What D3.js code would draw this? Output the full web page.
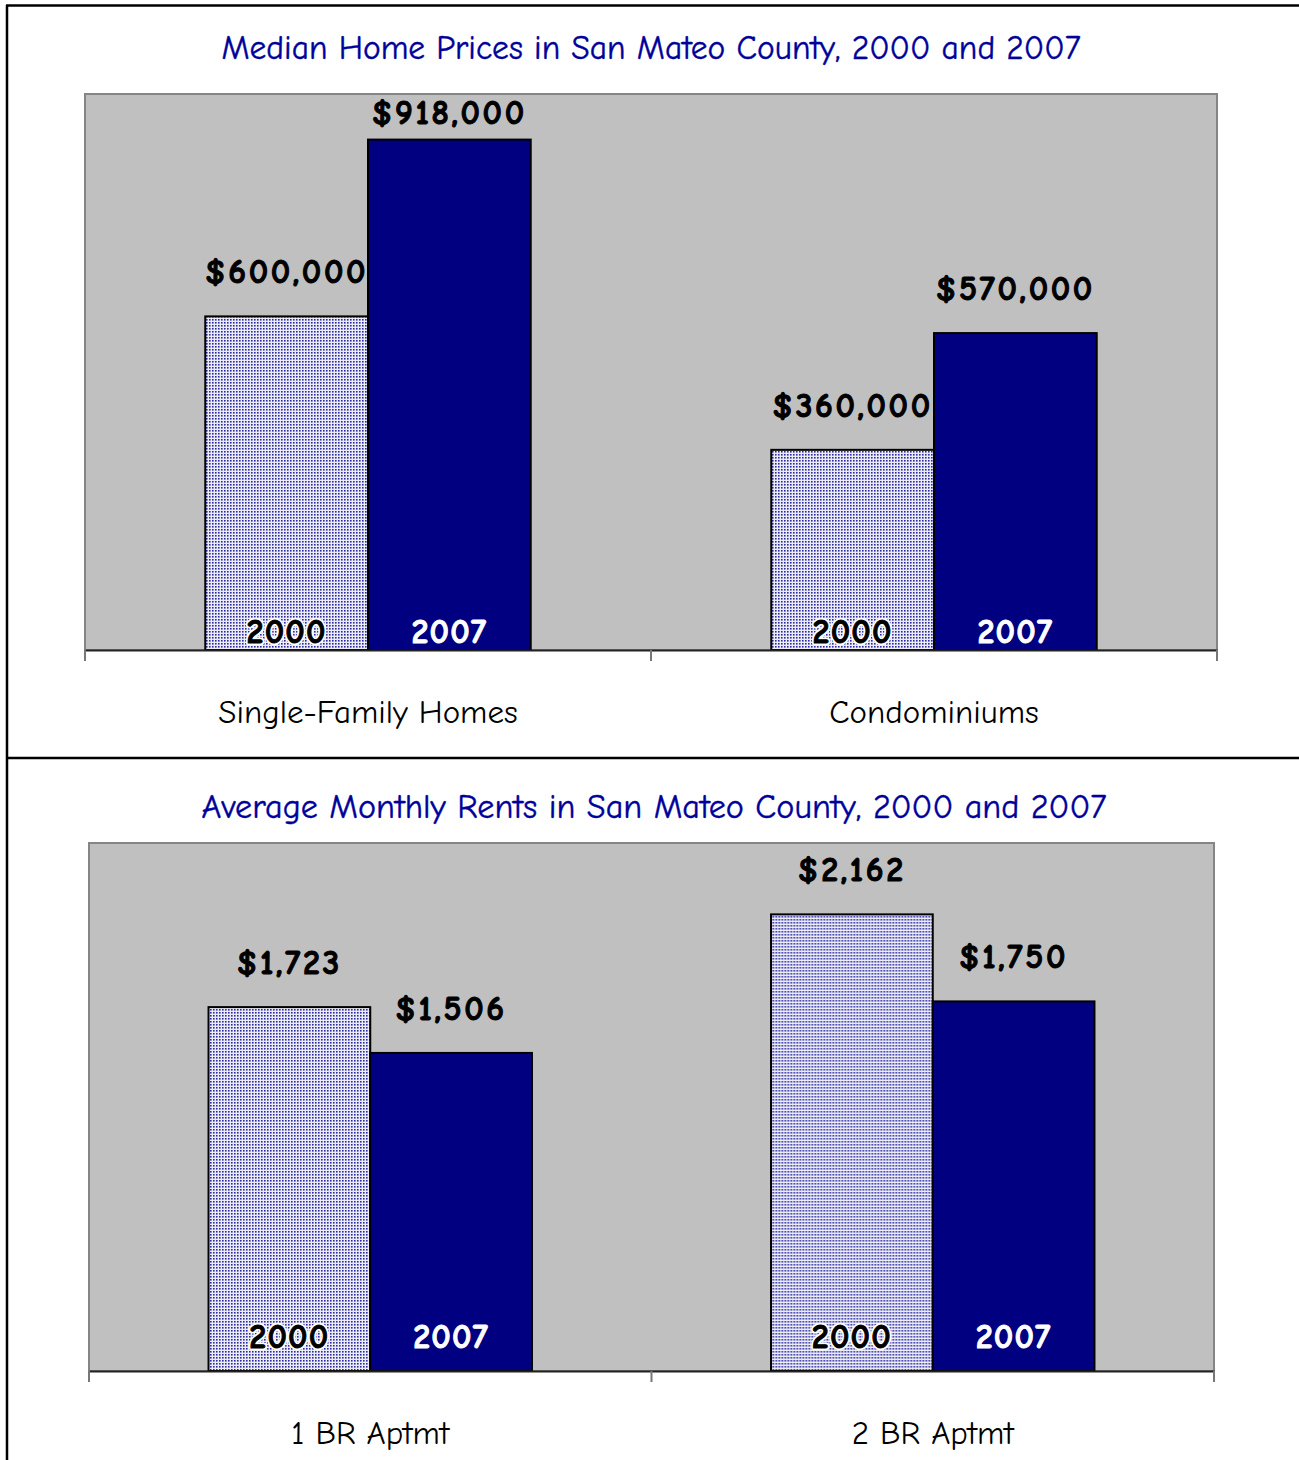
<!DOCTYPE html>
<html>
<head>
<meta charset="utf-8">
<script src="https://cdn.jsdelivr.net/npm/d3@7"></script>
<style>
  html, body { margin: 0; padding: 0; background: #fff; }
  svg { display: block; }
  text { font-family: "Comic Sans MS", "Comic Neue", "DejaVu Sans", sans-serif; }
</style>
</head>
<body>
<svg id="chart" width="1299" height="1460"></svg>
<script>
// データ
var years = ["2000", "2007"];

var priceTitle = "Median Home Prices in San Mateo County, 2000 and 2007";
var priceCategories = ["Single-Family Homes", "Condominiums"];
var prices2000 = [600000, 360000];
var prices2007 = [918000, 570000];
var priceMax = 1000000;

var rentTitle = "Average Monthly Rents in San Mateo County, 2000 and 2007";
var rentCategories = ["1 BR Aptmt", "2 BR Aptmt"];
var rents2000 = [1723, 2162];
var rents2007 = [1506, 1750];
var rentMax = 2500;

var svg = d3.select("#chart");

// 2000年のドット模様
var defs = svg.append("defs");
var pat = defs.append("pattern")
  .attr("id", "dots")
  .attr("patternUnits", "userSpaceOnUse")
  .attr("width", 3).attr("height", 3);
pat.append("rect").attr("width", 3).attr("height", 3).attr("fill", "#ececf9");
pat.append("rect").attr("x", 1).attr("y", 1).attr("width", 1.6).attr("height", 1.6).attr("fill", "#2a2aa2");

// 外枠
svg.append("line").attr("x1", 7).attr("y1", 5).attr("x2", 7).attr("y2", 1460)
  .attr("stroke", "#000").attr("stroke-width", 2.5);
svg.append("line").attr("x1", 6).attr("y1", 5.5).attr("x2", 1299).attr("y2", 5.5)
  .attr("stroke", "#000").attr("stroke-width", 2.5);
svg.append("line").attr("x1", 6).attr("y1", 758).attr("x2", 1299).attr("y2", 758)
  .attr("stroke", "#000").attr("stroke-width", 2.5);

function drawChart(opt){
  var rows = opt.categories.map(function(c, i){
    return { category: c, values: [
      { year: years[0], value: opt.v2000[i] },
      { year: years[1], value: opt.v2007[i] }
    ]};
  });

  var left = opt.left, right = opt.right, top = opt.top, bottom = opt.bottom;

  var x0 = d3.scaleBand().domain(opt.categories).range([left, right]).padding(0);
  var bw = x0.bandwidth();
  var x1 = d3.scaleBand().domain(years).range([bw * 0.2125, bw * 0.7875]).padding(0);
  var y = d3.scaleLinear().domain([0, opt.max]).range([bottom, top]);

  // タイトル
  svg.append("text")
    .attr("x", opt.titleX).attr("y", opt.titleY)
    .attr("text-anchor", "middle")
    .attr("fill", "#00009a")
    .attr("stroke", "#00009a").attr("stroke-width", 0.4)
    .style("font-size", opt.titleSize + "px")
    .text(opt.title);

  // プロット領域
  svg.append("rect")
    .attr("x", left).attr("y", top)
    .attr("width", right - left).attr("height", bottom - top)
    .attr("fill", "#c0c0c0")
    .attr("stroke", "#858585").attr("stroke-width", 2);

  var g = svg.append("g");

  var cat = g.selectAll(".cat")
    .data(rows)
    .enter().append("g")
      .attr("class", "cat")
      .attr("transform", function(d){ return "translate(" + x0(d.category) + ",0)"; });

  cat.selectAll("rect")
    .data(function(d){ return d.values; })
    .enter().append("rect")
      .attr("x", function(d){ return x1(d.year); })
      .attr("y", function(d){ return y(d.value); })
      .attr("width", x1.bandwidth())
      .attr("height", function(d){ return bottom - y(d.value); })
      .attr("fill", function(d){ return d.year == "2000" ? "url(#dots)" : "#000080"; })
      .attr("stroke", "#000").attr("stroke-width", 2);

  // 値ラベル（上端に近い場合は下げる）
  cat.selectAll(".val")
    .data(function(d){ return d.values; })
    .enter().append("text")
      .attr("class", "val")
      .attr("x", function(d){ return x1(d.year) + x1.bandwidth() / 2; })
      .attr("y", function(d){ return Math.max(y(d.value) - 33, top + 30); })
      .attr("text-anchor", "middle")
      .attr("fill", "#000")
      .attr("stroke", "#000").attr("stroke-width", 1)
      .style("font-size", "34px").style("font-weight", "bold")
      .style("letter-spacing", "2.6px")
      .text(function(d){ return d3.format("$,")(d.value); });

  // 年ラベル（2000は白縁付き）
  var yrY = bottom - opt.yearPad;
  cat.selectAll(".yr-halo")
    .data(function(d){ return d.values.filter(function(v){ return v.year == "2000"; }); })
    .enter().append("text")
      .attr("class", "yr-halo")
      .attr("x", function(d){ return x1(d.year) + x1.bandwidth() / 2; })
      .attr("y", yrY)
      .attr("text-anchor", "middle")
      .attr("fill", "#fff")
      .attr("stroke", "#fff").attr("stroke-width", 4.5)
      .attr("stroke-linejoin", "round")
      .style("font-size", "34px").style("font-weight", "bold")
      .style("letter-spacing", "1.2px")
      .text(function(d){ return d.year; });

  cat.selectAll(".yr")
    .data(function(d){ return d.values; })
    .enter().append("text")
      .attr("class", "yr")
      .attr("x", function(d){ return x1(d.year) + x1.bandwidth() / 2; })
      .attr("y", yrY)
      .attr("text-anchor", "middle")
      .attr("fill", function(d){ return d.year == "2000" ? "#000" : "#fff"; })
      .attr("stroke", function(d){ return d.year == "2000" ? "#000" : "#fff"; })
      .attr("stroke-width", 1)
      .style("font-size", "34px").style("font-weight", "bold")
      .style("letter-spacing", "1.2px")
      .text(function(d){ return d.year; });

  // X軸
  var axis = svg.append("g")
    .attr("transform", "translate(0," + bottom + ")")
    .call(d3.axisBottom(x0).tickSize(0).tickPadding(opt.labelPad));
  axis.select(".domain").attr("stroke", "#222").attr("stroke-width", 2);
  axis.selectAll(".tick text")
    .attr("fill", "#000")
    .style("font-size", "33px")
    .style("font-family", '"Comic Sans MS", "Comic Neue", "DejaVu Sans", sans-serif');

  var edges = opt.categories.map(function(c){ return x0(c); }).concat([right]);
  svg.append("g").selectAll("line")
    .data(edges)
    .enter().append("line")
      .attr("x1", function(d){ return d; }).attr("x2", function(d){ return d; })
      .attr("y1", bottom).attr("y2", bottom + 11)
      .attr("stroke", "#777").attr("stroke-width", 2);
}

drawChart({
  title: priceTitle, titleX: 651, titleY: 59, titleSize: 33.5,
  categories: priceCategories, v2000: prices2000, v2007: prices2007, max: priceMax,
  left: 85, right: 1217, top: 94, bottom: 650, labelPad: 50, yearPad: 7
});

drawChart({
  title: rentTitle, titleX: 654, titleY: 818, titleSize: 34.2,
  categories: rentCategories, v2000: rents2000, v2007: rents2007, max: rentMax,
  left: 89, right: 1214, top: 843, bottom: 1371, labelPad: 50, yearPad: 23
});
</script>
</body>
</html>
